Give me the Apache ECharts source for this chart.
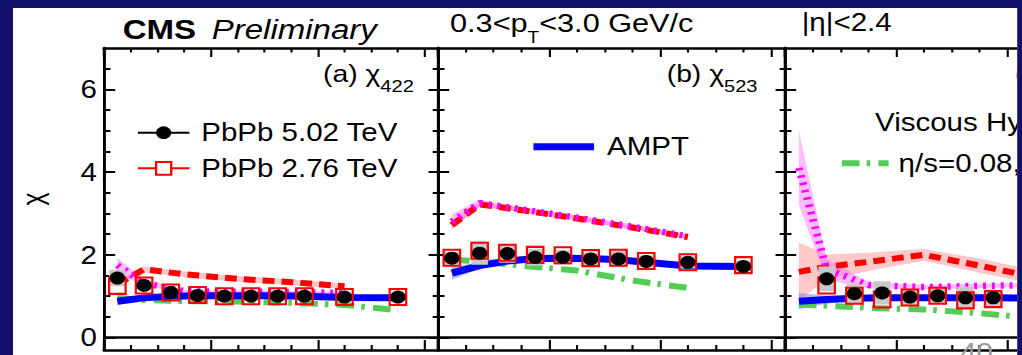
<!DOCTYPE html>
<html><head><meta charset="utf-8">
<script src="https://cdn.jsdelivr.net/npm/echarts@6/dist/echarts.min.js"></script>
<style>
html,body{margin:0;padding:0;background:#13106a;width:1022px;height:355px;overflow:hidden;}
#chart{position:absolute;left:13px;top:8px;width:850.6px;height:347px;background:#fff;transform:scaleX(1.18);transform-origin:0 0;overflow:hidden;}
</style></head><body><div id="chart"></div>
<script>
// ---------- data (centrality in %, chi values) ----------
const centralityData  = [2.5, 7.5, 12.5, 17.5, 22.5, 27.5, 32.5, 37.5, 45, 55];
const centralityDataC = [7.5, 12.5, 17.5, 22.5, 27.5, 32.5, 37.5];
const centralityAmptC = [2.5, 7.5, 12.5, 17.5, 22.5, 27.5, 32.5, 37.5, 45];
const centralityHydro  = [2.5, 7.5, 15, 25, 35, 45];
const centralityHydroA = [2.5, 7.5, 15, 25, 35, 45, 55];
const yTickMajor = [0, 2, 4, 6];
const yTickMinor = [0.5, 1, 1.5, 2.5, 3, 3.5, 4.5, 5, 5.5, 6.5];
const xTickMajor = [0, 20, 40, 60];
const xTickMinor = [5, 10, 15, 25, 30, 35, 45, 50, 55];

// (a) chi_422
const pbpb502A = [1.44, 1.26, 1.09, 1.02, 1.00, 1.00, 1.00, 1.00, 0.98, 0.98];
const sys502A  = [0.20, 0.10, 0.07, 0.06, 0.06, 0.06, 0.06, 0.06, 0.06, 0.06];
const pbpb276A = [1.25, 1.26, 1.09, 1.03, 1.00, 1.00, 1.00, 1.00, 0.98, 0.98];
const amptA    = [0.88, 0.96, 1.00, 1.01, 1.01, 1.01, 1.01, 1.00, 0.97, 0.96];
const amptErrA = [0.10, 0.05, 0.03, 0.02, 0.02, 0.02, 0.02, 0.02, 0.02, 0.02];
const hydroRedA    = [1.30, 1.65, 1.53, 1.42, 1.34, 1.24];
const hydroRedErrA = [0.06, 0.07, 0.07, 0.07, 0.07, 0.07];
const hydroMagA    = [1.75, 1.32, 1.12, 1.11, 1.10, 1.08];
const hydroMagErrA = [0.18, 0.08, 0.03, 0.03, 0.03, 0.03];
const hydroGreenA  = [0.96, 0.91, 0.88, 0.87, 0.84, 0.79, 0.66];

// (b) chi_523
const pbpb502B = [1.92, 2.04, 2.03, 1.94, 1.94, 1.90, 1.90, 1.84, 1.82, 1.72];
const sys502B  = [0.15, 0.28, 0.22, 0.20, 0.18, 0.15, 0.20, 0.15, 0.15, 0.12];
const pbpb276B = [1.93, 2.10, 2.05, 2.00, 1.99, 1.92, 1.93, 1.85, 1.82, 1.75];
const amptB    = [1.56, 1.74, 1.85, 1.91, 1.92, 1.91, 1.88, 1.82, 1.73, 1.72];
const amptErrB = [0.16, 0.07, 0.04, 0.03, 0.03, 0.03, 0.03, 0.03, 0.03, 0.03];
const hydroRedB    = [2.72, 3.22, 3.08, 2.88, 2.66, 2.43];
const hydroRedErrB = [0.10, 0.06, 0.05, 0.05, 0.05, 0.05];
const hydroMagB    = [2.80, 3.25, 3.10, 2.90, 2.68, 2.45];
const hydroMagErrB = [0.18, 0.08, 0.06, 0.06, 0.06, 0.06];
const hydroGreenB  = [1.88, 1.84, 1.74, 1.62, 1.38, 1.20];

// (c)
const pbpb502C = [1.42, 1.06, 1.08, 0.98, 1.01, 0.96, 0.96];
const sys502C  = [0.30, 0.23, 0.28, 0.20, 0.20, 0.27, 0.20];
const pbpb276C = [1.26, 1.01, 0.92, 0.97, 1.01, 0.90, 0.93];
const amptC    = [0.88, 0.92, 0.95, 0.96, 0.96, 0.96, 0.96, 0.96, 0.95];
const amptErrC = [0.20, 0.10, 0.05, 0.03, 0.03, 0.03, 0.03, 0.03, 0.03];
const hydroRedC    = [1.59, 1.71, 1.83, 2.00, 1.74, 1.46];
const hydroRedErrC = [0.70, 0.30, 0.22, 0.14, 0.17, 0.16];
const hydroMagC    = [4.10, 1.65, 1.27, 1.22, 1.25, 1.27];
const hydroMagErrC = [0.90, 0.25, 0.08, 0.05, 0.05, 0.05];
const hydroGreenC  = [0.80, 0.77, 0.72, 0.68, 0.59, 0.47];

// ---------- layout helpers (reference pixels -> chart pixels) ----------
const S = 1.18, OX = 13, OY = 8;
const PX = x => (x - OX) / S;
const PY = y => y - OY;
const FONT = '"Liberation Sans", Arial, Helvetica, sans-serif';
const panelEdges = [[104, 438], [438, 785], [785, 1132]];

const grids = [], xAxes = [], yAxes = [];
function makeX(gi, pos, major) {
  return {
    type: 'value', gridIndex: gi, position: pos, min: 0, max: 62.5,
    axisLine: { show: major, onZero: false, lineStyle: { color: '#000', width: 2.7 } },
    axisTick: { show: true, inside: true, length: pos === 'bottom' ? (major ? 10 : 5) : (major ? 9 : 4.5),
      customValues: major ? xTickMajor : xTickMinor, lineStyle: { color: '#000', width: 1.8 } },
    axisLabel: { show: false }, splitLine: { show: false }
  };
}
function makeY(gi, pos, major) {
  const left = pos === 'left';
  const ax = {
    type: 'value', gridIndex: gi, position: pos, min: -0.3, max: 7,
    axisLine: { show: major, onZero: false, lineStyle: { color: '#000', width: 2.5 } },
    axisTick: { show: true, inside: true, length: left ? (major ? 9.5 : 5.5) : (major ? 8 : 4.5),
      customValues: major ? yTickMajor : yTickMinor, lineStyle: { color: '#000', width: 2 } },
    axisLabel: { show: gi === 0 && left && major, customValues: yTickMajor, margin: 6,
      fontFamily: FONT, fontSize: 25, color: '#000' },
    splitLine: { show: false }
  };
  if (gi === 0 && left && major) {
    ax.name = '\u03C7'; ax.nameLocation = 'middle'; ax.nameRotate = 90; ax.nameGap = 48;
    ax.nameTextStyle = { fontFamily: FONT, fontSize: 25, color: '#000' };
  }
  return ax;
}
panelEdges.forEach(([l, r], gi) => {
  grids.push({ left: PX(l), top: PY(48), width: (r - l) / S, height: 302, show: false,
    containLabel: false, outerBoundsMode: 'none' });
  ['bottom', 'top'].forEach(p => [true, false].forEach(m => xAxes.push(makeX(gi, p, m))));
  ['left', 'right'].forEach(p => [true, false].forEach(m => yAxes.push(makeY(gi, p, m))));
});

// ---------- series builders ----------
const series = [];
function band(gi, xs, ys, errs, color) {
  series.push({
    type: 'custom', xAxisIndex: gi * 4, yAxisIndex: gi * 4, silent: true, z: 1, clip: true,
    data: xs.map((x, i) => [x, ys[i] - errs[i], ys[i] + errs[i]]),
    renderItem: (params, api) => {
      if (params.dataIndex !== 0) return null;
      const up = [], lo = [];
      xs.forEach((x, i) => { up.push(api.coord([x, ys[i] + errs[i]])); lo.push(api.coord([x, ys[i] - errs[i]])); });
      return { type: 'polygon', shape: { points: up.concat(lo.reverse()) }, style: { fill: color } };
    }
  });
}
function curve(gi, name, xs, ys, color, width, type) {
  series.push({
    type: 'line', name: name, xAxisIndex: gi * 4, yAxisIndex: gi * 4, z: 2, symbol: 'none',
    silent: true, data: xs.map((x, i) => [x, ys[i]]),
    itemStyle: { color: color },
    lineStyle: { color: color, width: width, type: type, cap: 'butt' }
  });
}
function sysBoxes(gi, xs, ys, errs) {
  series.push({
    type: 'custom', xAxisIndex: gi * 4, yAxisIndex: gi * 4, z: 3, silent: true,
    data: xs.map((x, i) => [x, ys[i], errs[i]]),
    renderItem: (params, api) => {
      const x = api.value(0), y = api.value(1), e = api.value(2);
      const p1 = api.coord([x, y + e]), p2 = api.coord([x, y - e]);
      return { type: 'rect', shape: { x: p1[0] - 7, y: p1[1], width: 14, height: p2[1] - p1[1] },
        style: { fill: '#c8c8c8' } };
    }
  });
}
function points276(gi, xs, ys) {
  series.push({
    type: 'line', name: 'PbPb 2.76 TeV', xAxisIndex: gi * 4, yAxisIndex: gi * 4, z: 4, silent: true,
    symbol: 'rect', symbolSize: [14, 16], data: xs.map((x, i) => [x, ys[i]]),
    itemStyle: { color: 'rgba(255,255,255,0)', borderColor: '#ff0000', borderWidth: 2 },
    lineStyle: { color: '#ff0000', width: 2, opacity: 0 }
  });
}
function points502(gi, xs, ys) {
  series.push({
    type: 'line', name: 'PbPb 5.02 TeV', xAxisIndex: gi * 4, yAxisIndex: gi * 4, z: 5, silent: true,
    symbol: 'circle', symbolSize: 13, data: xs.map((x, i) => [x, ys[i]]),
    itemStyle: { color: '#000' },
    lineStyle: { color: '#000', width: 2, opacity: 0 },
    markLine: { silent: true, symbol: ['none', 'none'], label: { show: false },
      lineStyle: { color: '#000', width: 2.7, type: 'solid' }, data: [{ yAxis: 0 }] }
  });
}

const RED_BAND = 'rgba(255,120,120,0.4)', MAG_BAND = 'rgba(255,90,255,0.4)', BLUE_BAND = 'rgba(90,90,255,0.4)';
const DASH_RED = [10, 6], DOT_MAG = [2.5, 5], DASHDOT_GREEN = [15, 6, 3, 7];
const GREEN = '#55cc55';

const panels = [
  { x: centralityData, v502: pbpb502A, s502: sys502A, x276: centralityData, v276: pbpb276A, xa: centralityData, ampt: amptA, amptErr: amptErrA,
    red: hydroRedA, redErr: hydroRedErrA, mag: hydroMagA, magErr: hydroMagErrA, xg: centralityHydroA, green: hydroGreenA },
  { x: centralityData, v502: pbpb502B, s502: sys502B, x276: centralityData, v276: pbpb276B, xa: centralityData, ampt: amptB, amptErr: amptErrB,
    red: hydroRedB, redErr: hydroRedErrB, mag: hydroMagB, magErr: hydroMagErrB, xg: centralityHydro, green: hydroGreenB },
  { x: centralityDataC, v502: pbpb502C, s502: sys502C, x276: centralityDataC, v276: pbpb276C, xa: centralityAmptC, ampt: amptC, amptErr: amptErrC,
    red: hydroRedC, redErr: hydroRedErrC, mag: hydroMagC, magErr: hydroMagErrC, xg: centralityHydro, green: hydroGreenC }
];
panels.forEach((p, gi) => {
  band(gi, centralityHydro, p.red, p.redErr, RED_BAND);
  band(gi, centralityHydro, p.mag, p.magErr, MAG_BAND);
  band(gi, p.xa, p.ampt, p.amptErr, BLUE_BAND);
  curve(gi, '\u03B7/s=0.08,', p.xg, p.green, GREEN, 6, DASHDOT_GREEN);
  curve(gi, 'hydro-red', centralityHydro, p.red, '#ff0000', 6, DASH_RED);
  curve(gi, 'hydro-magenta', centralityHydro, p.mag, '#ff00ff', 6.5, DOT_MAG);
  curve(gi, 'AMPT', p.xa, p.ampt, '#0000ff', 7, 'solid');
  sysBoxes(gi, p.x, p.v502, p.s502);
  points276(gi, p.x276, p.v276);
  points502(gi, p.x, p.v502);
});

// ---------- texts ----------
const txt = (s, x, y, size, opts = {}) => ({
  type: 'text', x: PX(x), y: PY(y), z: 50, silent: true,
  style: Object.assign({ text: s, fill: '#000', font: `${opts.weight || ''} ${opts.italic ? 'italic' : ''} ${size}px ${FONT}`,
    verticalAlign: opts.va || 'middle', align: 'left' }, opts.style || {})
});
const subTxt = (main, sub, x, yTop, size, subSize, lh) => ({
  type: 'text', x: PX(x), y: PY(yTop), z: 50, silent: true,
  style: {
    text: `{m|${main}}{s|${sub}}`, verticalAlign: 'top', align: 'left',
    rich: {
      m: { fontFamily: FONT, fontSize: size, lineHeight: lh, fill: '#000', color: '#000' },
      s: { fontFamily: FONT, fontSize: subSize, lineHeight: subSize, verticalAlign: 'bottom', fill: '#000', color: '#000' }
    }
  }
});
const ptTxt = {
  type: 'text', x: PX(450), y: PY(0), z: 50, silent: true,
  style: {
    text: '{m|0.3<p}{s|T}{m|<3.0 GeV/c}', verticalAlign: 'top', align: 'left',
    rich: {
      m: { fontFamily: FONT, fontSize: 26, lineHeight: 46, fill: '#000', color: '#000' },
      s: { fontFamily: FONT, fontSize: 16, lineHeight: 16, verticalAlign: 'bottom', fill: '#000', color: '#000' }
    }
  }
};
const graphic = [
  txt('CMS', 122.7, 29.3, 28, { weight: 'bold' }),
  txt('Preliminary', 211.7, 29.3, 28, { italic: true }),
  ptTxt,
  txt('|\u03B7|<2.4', 801.7, 22.5, 25),
  subTxt('(a) \u03C7', '422', 323, 52.5, 24, 17, 42),
  subTxt('(b) \u03C7', '523', 666.7, 52.5, 24, 17, 42),
  txt('(c)', 1015, 74, 24),
  txt('Viscous Hydro', 875, 122.5, 25),
  txt('40', 960, 352, 25, { style: { fill: '#9a9a9a' } })
];

const legendText = pad => ({ fontFamily: FONT, fontSize: 25, color: '#000', lineHeight: 30, padding: [0, 0, 0, pad] });
const option = {
  animation: false,
  backgroundColor: '#fff',
  grid: grids, xAxis: xAxes, yAxis: yAxes, series: series, graphic: graphic,
  legend: [
    { orient: 'vertical', left: PX(136.7), top: PY(117.7), padding: 0, itemWidth: 43.7, itemHeight: 16, itemGap: 5.6,
      selectedMode: false, lineStyle: { opacity: 1, width: 2 },
      data: [{ name: 'PbPb 5.02 TeV' }, { name: 'PbPb 2.76 TeV', itemStyle: { color: '#fff' } }],
      textStyle: legendText(5) },
    { orient: 'vertical', left: PX(529.3), top: PY(131.7), padding: 0, itemWidth: 51.4, itemHeight: 16,
      selectedMode: false, itemStyle: { opacity: 0 }, lineStyle: { width: 7 }, data: ['AMPT'], textStyle: legendText(6) },
    { orient: 'vertical', left: PX(838.3), top: PY(148.3), padding: 0, itemWidth: 39.6, itemHeight: 16,
      selectedMode: false, itemStyle: { opacity: 0 }, lineStyle: { width: 6 }, data: ['\u03B7/s=0.08,'], textStyle: legendText(3.5) }
  ]
};
const chart = echarts.init(document.getElementById('chart'), null, { renderer: 'svg' });
chart.setOption(option);
</script></body></html>
